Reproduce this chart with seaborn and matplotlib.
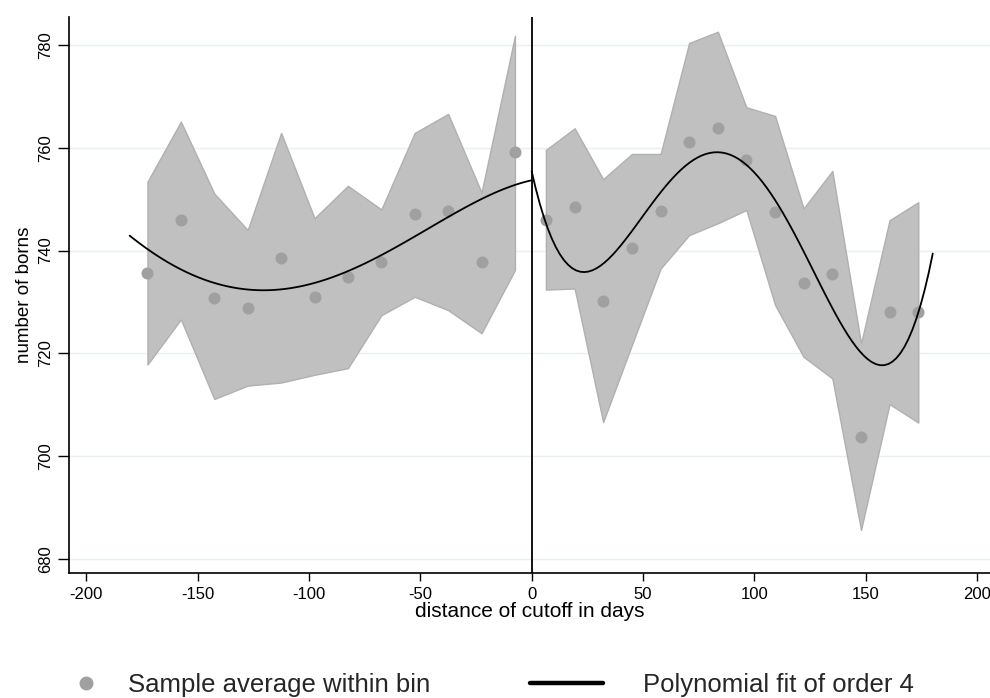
import numpy as np
import pandas as pd
import matplotlib
matplotlib.use("Agg")
import matplotlib.pyplot as plt
from matplotlib.lines import Line2D
import seaborn as sns

# Bin averages and confidence bands, left of the cutoff (bin width 15 days)
left_bins = [-172.5, -157.5, -142.5, -127.5, -112.5, -97.5, -82.5, -67.5, -52.5, -37.5, -22.5, -7.5]
left_mean = [735.6, 745.9, 730.8, 728.9, 738.6, 731.0, 734.8, 737.7, 747.2, 747.7, 737.7, 759.2]
left_upper = [753.4, 765.1, 751.1, 744.0, 762.9, 746.3, 752.6, 748.0, 762.9, 766.6, 751.3, 781.8]
left_lower = [717.8, 726.6, 711.1, 713.7, 714.3, 715.8, 717.1, 727.4, 731.0, 728.4, 723.9, 736.2]

# Bin averages and confidence bands, right of the cutoff
right_bins = [6.4, 19.3, 32.1, 45.0, 57.9, 70.7, 83.6, 96.4, 109.3, 122.1, 135.0, 147.9, 160.7, 173.6]
right_mean = [745.9, 748.4, 730.2, 740.4, 747.7, 761.1, 763.8, 757.7, 747.5, 733.7, 735.4, 703.6, 728.0, 728.0]
right_upper = [759.6, 763.8, 753.9, 758.8, 758.8, 780.4, 782.6, 767.9, 766.2, 748.2, 755.5, 721.9, 745.9, 749.4]
right_lower = [732.4, 732.6, 706.6, 721.6, 736.5, 743.0, 745.3, 747.9, 729.4, 719.3, 715.1, 685.6, 710.1, 706.5]

# Fitted-curve readings on each side of the cutoff
left_fit_x = [-180.5, -172.5, -158.7, -143.4, -128.4, -121.0, -113.4, -98.5, -83.2, -68.2, -53.2, -38.3, -23.1, -8.2, 0.0]
left_fit_y = [742.9, 740.2, 736.8, 733.7, 732.4, 732.2, 732.4, 733.7, 735.9, 738.9, 742.5, 746.3, 750.0, 752.6, 753.7]
right_fit_x = [0.0, 5.6, 12.3, 18.7, 23.5, 31.5, 44.5, 57.2, 70.4, 83.1, 96.2, 109.3, 122.3, 129.2, 135.0,
               144.1, 148.1, 151.6, 157.5, 160.9, 172.6, 173.6, 180.1]
right_fit_y = [755.0, 746.6, 739.4, 736.8, 736.0, 737.5, 743.3, 750.5, 757.0, 758.8, 756.6, 749.8, 740.1, 733.4, 730.4,
               722.6, 720.4, 718.0, 716.3, 716.7, 727.8, 728.1, 739.3]

x_ticks = [-200, -150, -100, -50, 0, 50, 100, 150, 200]
y_ticks = [680, 700, 720, 740, 760, 780]

x_title = "distance of cutoff in days"
y_title = "number of borns"
legend_points = "Sample average within bin"
legend_fit = "Polynomial fit of order 4"

sns.set_theme(style="white")
plt.rcParams["font.family"] = ["Liberation Sans", "DejaVu Sans"]

band_color = "#c0c0c0"
band_edge = "#b0b0b0"
point_color = "#a0a0a0"
grid_color = "#e8f1f1"

fig = plt.figure(figsize=(9.9, 6.98), dpi=100)
ax = fig.add_axes([0.070, 0.1795, 0.930, 0.796])

bins_left = pd.DataFrame({"x": left_bins, "y": left_mean, "lo": left_lower, "hi": left_upper})
bins_right = pd.DataFrame({"x": right_bins, "y": right_mean, "lo": right_lower, "hi": right_upper})

for df in (bins_left, bins_right):
    ax.fill_between(df["x"], df["lo"], df["hi"], facecolor=band_color,
                    edgecolor=band_edge, linewidth=1.0, zorder=2)

bins_all = pd.concat([bins_left, bins_right], ignore_index=True)
sns.scatterplot(data=bins_all, x="x", y="y", ax=ax, color=point_color,
                s=75, linewidth=0, zorder=3, legend=False)

fit_left = pd.DataFrame({"x": left_fit_x, "y": left_fit_y})
fit_right = pd.DataFrame({"x": right_fit_x, "y": right_fit_y})
for df in (fit_left, fit_right):
    sns.regplot(data=df, x="x", y="y", order=4, ci=None, scatter=False, ax=ax,
                truncate=True, line_kws={"color": "black", "linewidth": 1.3, "zorder": 4})

ax.axvline(0, color="black", linewidth=1.3, zorder=5)

ax.set_xlim(-207.6, 205.8)
ax.set_ylim(677.27, 785.45)
ax.set_xticks(x_ticks)
ax.set_yticks(y_ticks)
ax.set_xticklabels([str(t) for t in x_ticks])
ax.set_yticklabels([str(t) for t in y_ticks], rotation=90, va="center")

ax.yaxis.grid(True, color=grid_color, linewidth=1.0, zorder=0)
ax.xaxis.grid(False)
ax.set_axisbelow(True)

for side in ("top", "right"):
    ax.spines[side].set_visible(False)
for side in ("left", "bottom"):
    ax.spines[side].set_color("black")
    ax.spines[side].set_linewidth(1.2)

ax.tick_params(axis="x", direction="out", length=6, width=1.0, color="black",
               labelsize=12, pad=4, labelcolor="black", bottom=True)
ax.tick_params(axis="y", direction="out", length=8, width=1.0, color="black",
               labelsize=12, pad=4, labelcolor="black", left=True)

ax.set_xlabel(x_title, fontsize=15, color="black", labelpad=0)
ax.set_ylabel(y_title, fontsize=13.5, color="black", labelpad=3)

# Legend below the plot area, two entries laid out separately
h_pts = Line2D([], [], linestyle="none", marker="o", markersize=9,
               markerfacecolor=point_color, markeredgecolor=point_color)
h_fit = Line2D([], [], color="black", linewidth=3.2)

leg1 = fig.legend([h_pts], [legend_points], loc="center left",
                  bbox_to_anchor=(73.0 / 990, (698 - 685) / 698),
                  frameon=False, fontsize=18.5, handlelength=1.0,
                  handletextpad=1.14, borderpad=0, borderaxespad=0)
leg2 = fig.legend([h_fit], [legend_fit], loc="center left",
                  bbox_to_anchor=(530.0 / 990, (698 - 685) / 698),
                  frameon=False, fontsize=18.5, handlelength=2.84,
                  handletextpad=1.56, borderpad=0, borderaxespad=0)

fig.savefig("out.png", dpi=100)
